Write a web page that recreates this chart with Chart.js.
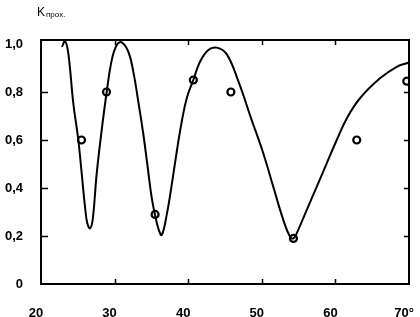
<!DOCTYPE html>
<html>
<head>
<meta charset="utf-8">
<script src="https://cdn.jsdelivr.net/npm/chart.js@4.4.1/dist/chart.umd.min.js"></script>
<style>
    body { margin: 0; background: #fff; }
    #box { width: 420px; height: 317px; position: relative; }
</style>
</head>
<body>
<div id="box"><canvas id="kcanvas"></canvas></div>
<script>
// curve Kпрох.(angle)
let curveX = [22.85, 23.26, 23.71, 24.39, 25.07, 25.53, 25.98, 26.29, 26.66, 27.02, 27.57, 28.25, 28.93, 29.61, 30.29, 30.96, 31.86, 32.54, 33.22, 33.90, 34.44, 35.04, 35.49, 35.94, 36.40, 37.08, 37.76, 38.44, 39.12, 39.80, 40.69, 41.60, 42.73, 43.87, 45.23, 46.81, 48.63, 50.20, 51.56, 52.92, 53.83, 54.30, 54.74, 56.10, 57.46, 58.82, 60.18, 61.54, 63.34, 66.06, 68.33, 69.90];
let curveY = [0.988, 1.012, 0.961, 0.753, 0.600, 0.461, 0.322, 0.253, 0.232, 0.267, 0.461, 0.642, 0.801, 0.933, 0.996, 1.007, 0.968, 0.885, 0.760, 0.625, 0.500, 0.360, 0.288, 0.232, 0.204, 0.288, 0.413, 0.551, 0.676, 0.774, 0.850, 0.926, 0.975, 0.985, 0.958, 0.845, 0.683, 0.545, 0.405, 0.267, 0.197, 0.190, 0.211, 0.308, 0.405, 0.503, 0.600, 0.690, 0.774, 0.857, 0.905, 0.922];

// measured points (open circles)
let pointX = [25.5, 28.9, 35.5, 40.7, 45.8, 54.3, 62.9, 69.7];
let pointY = [0.60, 0.80, 0.29, 0.85, 0.80, 0.19, 0.60, 0.845];

let xTicks = [20, 30, 40, 50, 60, 70];
let yTicks = [0, 0.2, 0.4, 0.6, 0.8, 1.0];

let fontName = "'Liberation Sans', Arial, sans-serif";

function toXY(xs, ys) {
    return xs.map(function(x, i) { return { x: x, y: ys[i] }; });
}

// frame, inward ticks and the axis title
let framePlugin = {
    id: 'frame',
    afterDraw: function(chart) {
        let ctx = chart.ctx;
        let a = chart.chartArea;
        let xs = chart.scales.x;
        let ys = chart.scales.y;
        ctx.save();
        ctx.strokeStyle = '#000';
        ctx.lineWidth = 2;
        ctx.strokeRect(a.left, a.top, a.right - a.left, a.bottom - a.top);

        ctx.lineWidth = 1.5;
        ctx.beginPath();
        xTicks.slice(1, -1).forEach(function(v) {
            let px = Math.round(xs.getPixelForValue(v)) + 0.5;
            ctx.moveTo(px, a.bottom); ctx.lineTo(px, a.bottom - 5);
            ctx.moveTo(px, a.top); ctx.lineTo(px, a.top + 5);
        });
        yTicks.slice(1, -1).forEach(function(v) {
            let py = Math.round(ys.getPixelForValue(v)) + 0.5;
            ctx.moveTo(a.left, py); ctx.lineTo(a.left + 7, py);
            ctx.moveTo(a.right, py); ctx.lineTo(a.right - 5, py);
        });
        ctx.stroke();

        ctx.fillStyle = '#000';
        ctx.textBaseline = 'alphabetic';
        ctx.font = '12px ' + fontName;
        ctx.fillText('K', 37, 16);
        ctx.font = '8px ' + fontName;
        ctx.fillText('прох.', 46, 17);
        ctx.restore();
    }
};

let kChart = new Chart(document.getElementById('kcanvas').getContext('2d'), {
    type: 'scatter',
    data: {
        datasets: [{
            data: toXY(curveX, curveY),
            showLine: true,
            borderColor: '#000',
            borderWidth: 2,
            pointRadius: 0,
            tension: 0.4,
            fill: false
        }, {
            data: toXY(pointX, pointY),
            showLine: false,
            pointRadius: 3.5,
            pointBorderWidth: 2.2,
            pointBorderColor: '#000',
            pointBackgroundColor: '#fff'
        }]
    },
    options: {
        responsive: true,
        maintainAspectRatio: false,
        animation: false,
        events: [],
        layout: { padding: { left: 0, right: 11, top: 40, bottom: 0 } },
        plugins: { legend: { display: false }, tooltip: { enabled: false } },
        scales: {
            x: {
                type: 'linear',
                min: 20,
                max: 70,
                afterBuildTicks: function(scale) {
                    scale.ticks = xTicks.map(function(v) { return { value: v }; });
                },
                afterFit: function(scale) {
                    scale.height = 33;
                    scale.paddingLeft = 0;
                    scale.paddingRight = 0;
                },
                grid: { display: false, drawTicks: false },
                border: { display: false },
                ticks: {
                    padding: 22,
                    labelOffset: -5,
                    maxRotation: 0,
                    color: '#000',
                    font: { family: fontName, size: 13, weight: 'bold' },
                    callback: function(v) { return v === 70 ? '70°' : String(v); }
                }
            },
            y: {
                min: 0,
                max: 1.0167,
                afterBuildTicks: function(scale) {
                    scale.ticks = yTicks.map(function(v) { return { value: v }; });
                },
                afterFit: function(scale) {
                    scale.width = 41;
                    scale.paddingTop = 0;
                    scale.paddingBottom = 0;
                },
                grid: { display: false, drawTicks: false },
                border: { display: false },
                ticks: {
                    padding: 18,
                    color: '#000',
                    font: { family: fontName, size: 13, weight: 'bold' },
                    callback: function(v) { return v === 0 ? '0' : v.toFixed(1).replace('.', ','); }
                }
            }
        }
    },
    plugins: [framePlugin]
});
</script>
</body>
</html>
